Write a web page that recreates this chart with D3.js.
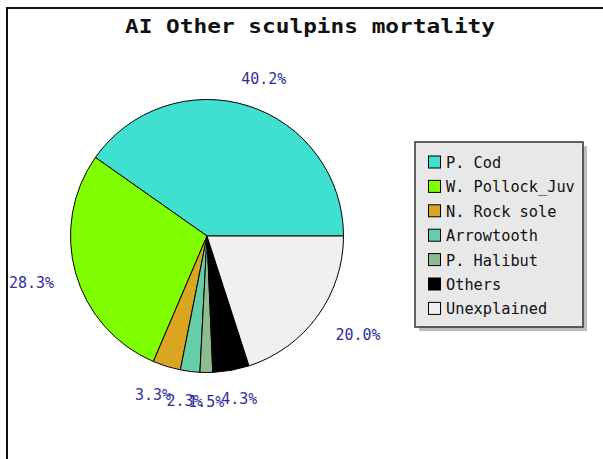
<!DOCTYPE html>
<html><head><meta charset="utf-8">
<script src="https://cdn.jsdelivr.net/npm/d3@7"></script>
<style>body{margin:0;background:#fff}svg{display:block}</style>
</head><body>
<script>
const categories = ["P. Cod","W. Pollock_Juv","N. Rock sole","Arrowtooth","P. Halibut","Others","Unexplained"];
const values = [40.2, 28.3, 3.3, 2.3, 1.5, 4.3, 20.0];
const colors = ["#40e0d0","#7fff00","#daa520","#66cdaa","#8fbc8f","#000000","#f0f0f0"];
const labels = ["40.2%","28.3%","3.3%","2.3%","1.5%","4.3%","20.0%"];
const title = "AI Other sculpins mortality";

const W = 603, H = 459;
const svg = d3.select("body").append("svg").attr("width", W).attr("height", H);

// outer frame
svg.append("rect").attr("x", 7).attr("y", 8).attr("width", 700).attr("height", 600)
  .attr("fill", "#fff").attr("stroke", "#111").attr("stroke-width", 2);

// title
svg.append("text").attr("x", 310).attr("y", 33).attr("text-anchor", "middle")
  .attr("font-family", "DejaVu Sans Mono").attr("font-weight", "bold").attr("font-size", 20)
  .attr("textLength", 370).attr("lengthAdjust", "spacingAndGlyphs").attr("fill", "#111").text(title);

const cx = 207, cy = 236, R = 136.5, RL = 159;
const pie = d3.pie().sort(null).startAngle(Math.PI/2).endAngle(Math.PI/2 - 2*Math.PI);
const arcs = pie(values);
const arc = d3.arc().innerRadius(0).outerRadius(R);

const g = svg.append("g").attr("transform", `translate(${cx},${cy})`);
g.selectAll("path").data(arcs).enter().append("path")
  .attr("d", arc).attr("fill", (d,i) => colors[i])
  .attr("stroke", "#000").attr("stroke-width", 1);

// labels, jpgraph-like placement
const lw = 9, lh = 12;
arcs.forEach((d,i) => {
  const mid = (d.startAngle + d.endAngle)/2;
  let a = Math.PI/2 - mid; // ccw from 3 o'clock
  a = ((a % (2*Math.PI)) + 2*Math.PI) % (2*Math.PI);
  const xt = cx + RL*Math.cos(a), yt = cy - RL*Math.sin(a);
  const P = Math.PI;
  let dx, dy;
  if (a >= 7*P/4 || a <= P/4) dx = 0;
  else if (a <= 3*P/4) dx = (a - P/4)*2/P;
  else if (a <= 5*P/4) dx = 1;
  else dx = 1 - (a - 5*P/4)*2/P;
  if (a >= 7*P/4) dy = ((a - P) - 3*P/4)*2/P;
  else if (a <= P/4) dy = 1 - a*2/P;
  else if (a <= 3*P/4) dy = 1;
  else if (a <= 5*P/4) dy = 1 - (a - 3*P/4)*2/P;
  else dy = 0;
  const w = labels[i].length*lw;
  const x = xt - dx*w, y = yt - dy*lh;
  svg.append("text").attr("x", x).attr("y", y + lh)
    .attr("font-family", "DejaVu Sans Mono").attr("font-size", 16)
    .attr("textLength", w).attr("lengthAdjust", "spacingAndGlyphs")
    .attr("fill", "#2e2e9e").text(labels[i]);
});

// legend
const lx = 415, ly = 142, lwid = 168, lhei = 185;
svg.append("rect").attr("x", lx+4).attr("y", ly+4).attr("width", lwid).attr("height", lhei).attr("fill", "#bdbdbd");
svg.append("rect").attr("x", lx).attr("y", ly).attr("width", lwid).attr("height", lhei)
  .attr("fill", "#e8e8e8").attr("stroke", "#333").attr("stroke-width", 1.5);
const step = 24.4;
categories.forEach((c,i) => {
  const yc = 162 + i*step;
  svg.append("rect").attr("x", 428.5).attr("y", yc - 6).attr("width", 12).attr("height", 12)
    .attr("fill", colors[i]).attr("stroke", "#000").attr("stroke-width", 1);
  svg.append("text").attr("x", 446).attr("y", yc + 6)
    .attr("font-family", "DejaVu Sans Mono").attr("font-size", 16)
    .attr("textLength", c.length*9.2).attr("lengthAdjust", "spacingAndGlyphs")
    .attr("fill", "#111").text(c);
});
</script>
</body></html>
